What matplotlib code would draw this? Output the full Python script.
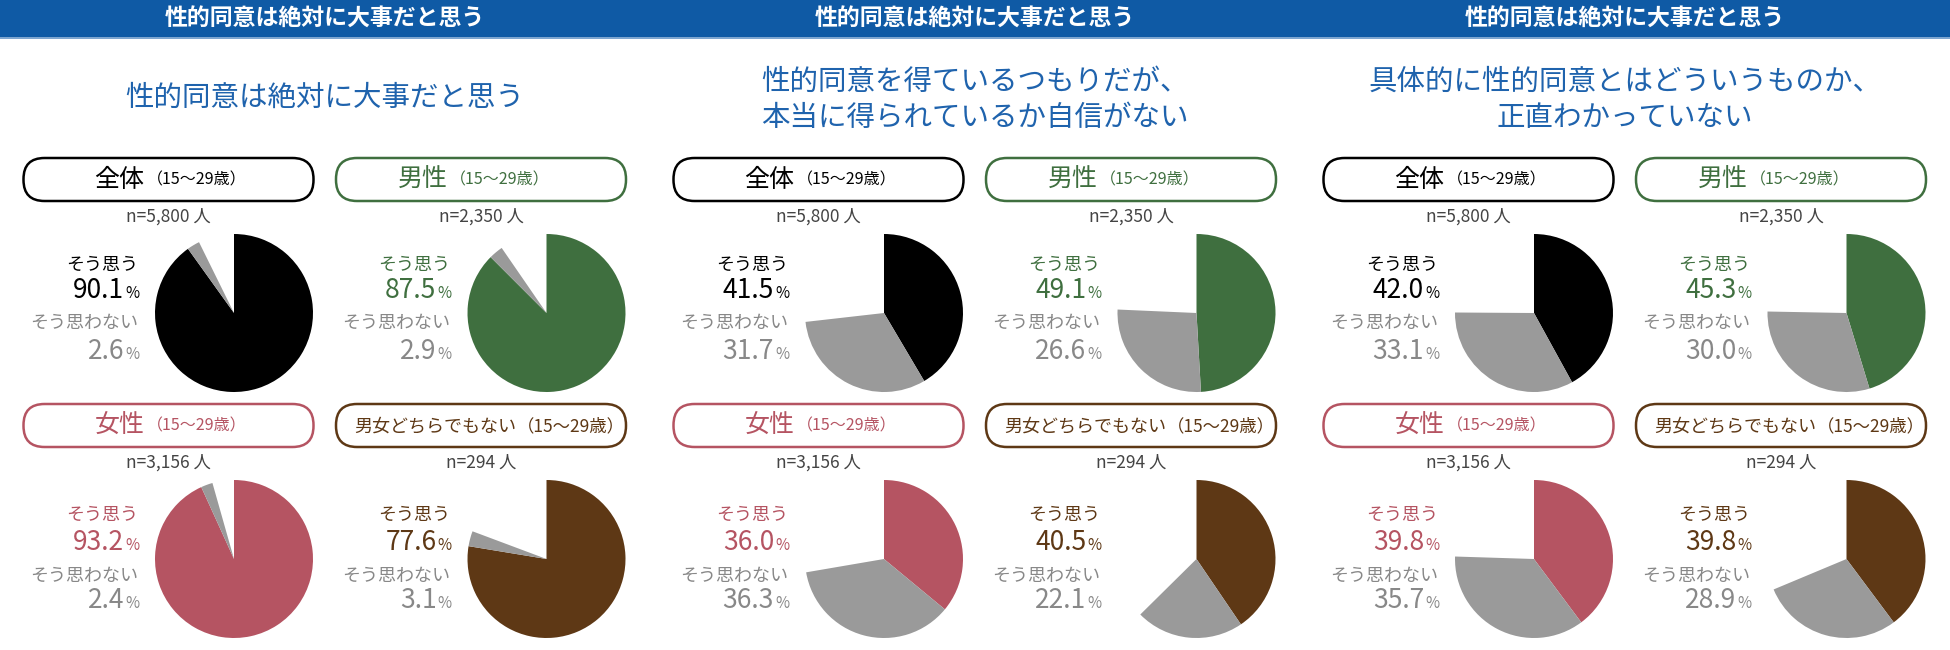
import matplotlib
matplotlib.use('Agg')
import matplotlib.pyplot as plt
from matplotlib.patches import FancyBboxPatch, Rectangle

plt.rcParams['font.family'] = ['Noto Sans CJK JP', 'DejaVu Sans']

# データ
header = '性的同意は絶対に大事だと思う'
questions = [
    ['性的同意は絶対に大事だと思う'],
    ['性的同意を得ているつもりだが、', '本当に得られているか自信がない'],
    ['具体的に性的同意とはどういうものか、', '正直わかっていない'],
]
groups = ['全体', '男性', '女性', '男女どちらでもない']
age = '（15～29歳）'
n_labels = ['n=5,800 人', 'n=2,350 人', 'n=3,156 人', 'n=294 人']
agree = [
    [90.1, 87.5, 93.2, 77.6],
    [41.5, 49.1, 36.0, 40.5],
    [42.0, 45.3, 39.8, 39.8],
]
disagree = [
    [2.6, 2.9, 2.4, 3.1],
    [31.7, 26.6, 36.3, 22.1],
    [33.1, 30.0, 35.7, 28.9],
]

group_colors = ['#000000', '#3f6f3f', '#b55462', '#5e3815']
gray = '#9a9a9a'
gray_text = '#888888'
blue = '#0f5aa5'
sub_blue = '#1f63ad'

W, H = 1950, 650
fig = plt.figure(figsize=(19.5, 6.5), dpi=100)
bg = fig.add_axes([0, 0, 1, 1])
bg.set_xlim(0, W)
bg.set_ylim(H, 0)
bg.axis('off')

# ヘッダー帯
bg.add_patch(Rectangle((0, 0), W, 37, color=blue, lw=0))
bg.add_patch(Rectangle((0, 37), W, 1.5, color='#7ea6d0', lw=0))

panel_w = 650
col_dx = [0, 312.5]
rows = [
    dict(box=158, n=217, lab1=265, num1=298, lab2=323, num2=359, pie=313),
    dict(box=404, n=463, lab1=515, num1=550, lab2=576, num2=608, pie=559),
]
split = [-24, -33, -24, 35]

for p in range(3):
    x0 = p * panel_w
    bg.text(x0 + 325, 19, header, color='white', fontsize=16.5, fontweight='bold',
            ha='center', va='center')
    lines = questions[p]
    ys = [98] if len(lines) == 1 else [82, 118]
    for line, y in zip(lines, ys):
        bg.text(x0 + 325, y, line, color=sub_blue, fontsize=20.5, ha='center', va='center')

    for g in range(4):
        r = rows[g // 2]
        cx = x0 + 168.5 + col_dx[g % 2]
        c = group_colors[g]
        # ラベルの枠
        bg.add_patch(FancyBboxPatch((cx - 145, r['box']), 290, 43,
                                    boxstyle='round,pad=0,rounding_size=21',
                                    fc='white', ec=c, lw=1.8))
        sx = cx + split[g]
        ty = r['box'] + 22
        if g < 3:
            bg.text(sx, ty, groups[g], color=c, fontsize=18, ha='right', va='center')
            bg.text(sx + 2, ty, age, color=c, fontsize=11.5, ha='left', va='center')
        else:
            bg.text(sx, ty, groups[g], color=c, fontsize=13, ha='right', va='center')
            bg.text(sx + 1, ty, age, color=c, fontsize=12.5, ha='left', va='center')
        bg.text(cx, r['n'], n_labels[g], color='#444444', fontsize=12.5, ha='center', va='center')

        # 左側のラベルと数値
        lx = x0 + 138 + col_dx[g % 2]
        bg.text(lx, r['lab1'], 'そう思う', color=c, fontsize=13, ha='right', va='center')
        bg.text(lx - 14, r['num1'], f'{agree[p][g]:.1f}', color=c, fontsize=19,
                ha='right', va='baseline')
        bg.text(lx - 13, r['num1'], '%', color=c, fontsize=11, ha='left', va='baseline')
        bg.text(lx, r['lab2'], 'そう思わない', color=gray_text, fontsize=13,
                ha='right', va='center')
        bg.text(lx - 14, r['num2'], f'{disagree[p][g]:.1f}', color=gray_text, fontsize=19,
                ha='right', va='baseline')
        bg.text(lx - 13, r['num2'], '%', color=gray_text, fontsize=11, ha='left', va='baseline')

        # 円グラフ
        pcx = x0 + 234 + col_dx[g % 2]
        pcy = r['pie']
        rad = 79
        ax = fig.add_axes([(pcx - rad) / W, 1 - (pcy + rad) / H, 2 * rad / W, 2 * rad / H])
        rest = 100 - agree[p][g] - disagree[p][g]
        ax.pie([agree[p][g], disagree[p][g], rest], colors=[c, gray, 'none'],
               startangle=90, counterclock=False, radius=1,
               wedgeprops=dict(linewidth=0))
        ax.set_aspect('auto')
        ax.set_xlim(-1, 1)
        ax.set_ylim(-1, 1)
        ax.axis('off')

fig.savefig('out.png', dpi=100, facecolor='white')
